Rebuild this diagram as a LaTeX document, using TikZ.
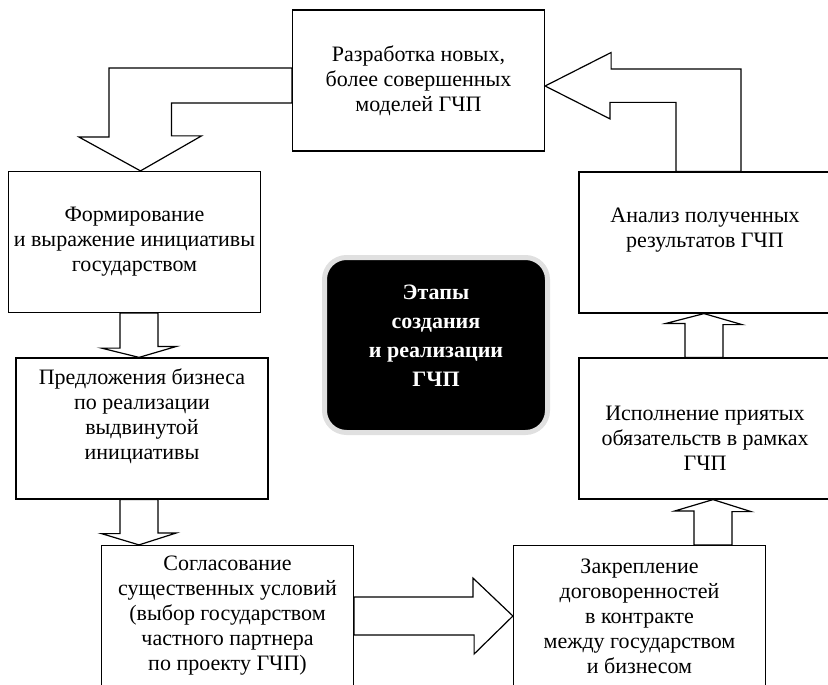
\documentclass[tikz,border=0pt]{standalone}
\usepackage{fontspec}
\setmainfont{Liberation Serif}
\usetikzlibrary{calc}

\begin{document}
\begin{tikzpicture}[
      x=0.5pt, y=-0.5pt,
      font=\fontsize{11pt}{12.5pt}\selectfont,
      boxc/.style={rectangle, draw, line width=0.6pt,
        minimum width=126pt, minimum height=70.5pt, align=center, inner sep=2pt},
      boxt/.style={align=center, inner sep=0pt},
      blockarr/.style={draw, fill=white, line width=0.6pt},
      etapc/.style={rectangle, rounded corners=11pt, fill=black, draw=black!12,
        line width=2.5pt, minimum width=111.5pt, minimum height=87.5pt,
        align=center, text=white, font=\fontsize{11pt}{14.5pt}\selectfont\bfseries},
    ]
    \path[use as bounding box, clip] (0,0) rectangle (828,684);

    % stages, clockwise from the top
    \node[boxc] (razr) at (418.5,80.5) {Разработка новых,\\более совершенных\\моделей ГЧП};
    \node[boxc] (form) at (134.5,242) {Формирование\\и выражение инициативы\\государством};
    \node[boxc, label={[boxt, yshift=6pt]center:{Предложения бизнеса\\по реализации\\выдвинутой\\инициативы}}] (pred) at (142,428.5) {};
    \node[boxc] (sogl) at (227.5,616) {Согласование\\существенных условий\\(выбор государством\\частного партнера\\по проекту ГЧП)};
    \node[boxc] (zakr) at (639.5,616) {Закрепление\\договоренностей\\в контракте\\между государством\\и бизнесом};
    \node[boxc, label={[boxt, yshift=-5pt]center:{Исполнение приятых\\обязательств в рамках\\ГЧП}}] (ispo) at (705,428.5) {};
    \node[boxc, label={[boxt, yshift=6pt]center:{Анализ полученных\\результатов ГЧП}}] (anal) at (705,242.5) {};

    \node[etapc, label={[boxt, text=white, font=\fontsize{11pt}{14.5pt}\selectfont\bfseries, yshift=4.5pt]center:{Этапы\\создания\\и реализации\\ГЧП}}] (etap) at (436,345) {};

    % block arrows
    \draw[blockarr] ($(form.north)+(6,0)$) -- ++(61,-35) -- ++(-30,0) |- ($(razr.west)+(0,22.5)$)
      -- ++(0,-35) -- ++(-183,0) -- ++(0,69) -- ++(-30,0) -- cycle;
    \draw[blockarr] (pred.north -| 139,0) -- ++(37.5,-11) -- ++(-18.5,0) -- (form.south -| 158,0)
      -- (form.south -| 120,0) -- ++(0,35) -- ++(-18.5,0) -- cycle;
    \draw[blockarr] (sogl.north -| 139,0) -- ++(37.5,-12) -- ++(-18.5,0) -- (pred.south -| 158,0)
      -- (pred.south -| 120,0) -- ++(0,34) -- ++(-18.5,0) -- cycle;
    \draw[blockarr] (zakr.west) -- ++(-40,-38) -- ++(0,19) -- ($(sogl.east)+(0,-19)$)
      -- ++(0,38) -- ++(120,0) -- ++(0,19) -- cycle;
    \draw[blockarr] (ispo.south -| 713,0) -- ++(38,12) -- ++(-19,0) -- (zakr.north -| 732,0)
      -- (zakr.north -| 694,0) -- ++(0,-34) -- ++(-19,0) -- cycle;
    \draw[blockarr] (anal.south -| 704,0) -- ++(38,11) -- ++(-19,0) -- (ispo.north -| 723,0)
      -- (ispo.north -| 685,0) -- ++(0,-34) -- ++(-19,0) -- cycle;
    \draw[blockarr] ($(razr.east)+(0,5.5)$) -- ++(66,-33.5) -- ++(0,16.5) -| (anal.north -| 741,0)
      -- (anal.north -| 676,0) |- ++(-66,-69) -- ++(0,16.5) -- cycle;
  \end{tikzpicture}
\end{document}
